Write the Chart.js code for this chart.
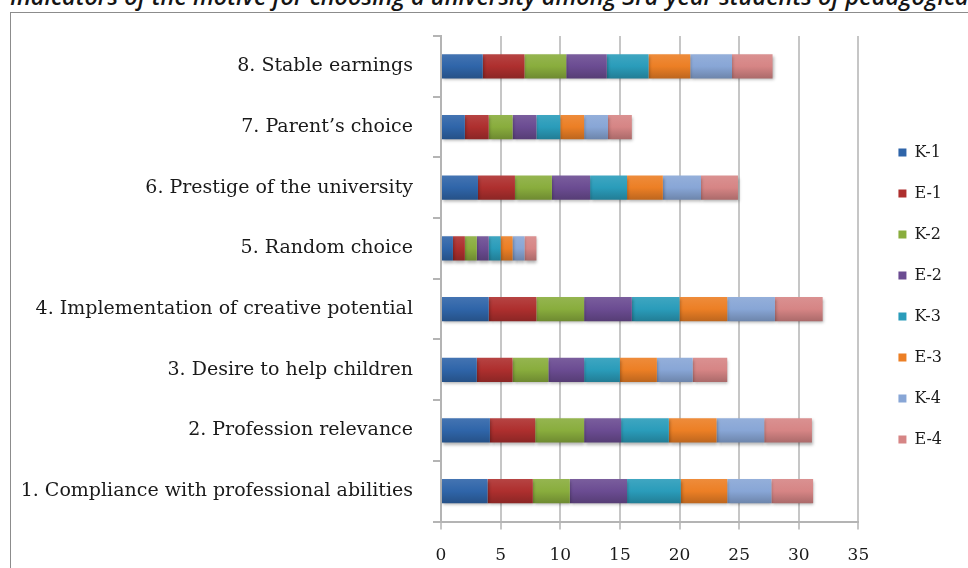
<!DOCTYPE html>
<html>
<head>
<meta charset="utf-8">
<title>Motive for choosing a university</title>
<script src="https://cdn.jsdelivr.net/npm/chart.js@4.4.1/dist/chart.umd.min.js"></script>
<style>
    html, body { margin: 0; padding: 0; background: #fff; overflow: hidden; }
    body { width: 968px; height: 568px; position: relative; }
    .caption {
        position: absolute; left: 10px; top: -15px;
        font: italic 600 23.5px 'Open Sans', sans-serif; line-height: 23px;
        white-space: nowrap; color: #151515;
    }
    .frame {
        position: absolute; left: 10px; top: 12px; width: 1200px; height: 800px;
        border-left: 1px solid #8c8c8c; border-top: 1px solid #8c8c8c;
    }
    .wrap { position: absolute; left: 0; top: 0; width: 968px; height: 568px; }
</style>
</head>
<body>
<div class="caption">Indicators of the motive for choosing a university among 3rd-year students of pedagogical</div>
<div class="frame"></div>
<div class="wrap"><canvas id="motiveChart"></canvas></div>
<script>
// categories, bottom to top
const categories = [
    '1. Compliance with professional abilities',
    '2. Profession relevance',
    '3. Desire to help children',
    '4. Implementation of creative potential',
    '5. Random choice',
    '6. Prestige of the university',
    '7. Parent\u2019s choice',
    '8. Stable earnings'
];

const seriesNames = ['K-1', 'E-1', 'K-2', 'E-2', 'K-3', 'E-3', 'K-4', 'E-4'];

// one value per category, same order as categories
const k1 = [3.9, 4.1, 3.0, 4.0, 1.0, 3.1, 2.0, 3.5];
const e1 = [3.8, 3.8, 3.0, 4.0, 1.0, 3.1, 2.0, 3.5];
const k2 = [3.1, 4.1, 3.0, 4.0, 1.0, 3.1, 2.0, 3.5];
const e2 = [4.8, 3.1, 3.0, 4.0, 1.0, 3.2, 2.0, 3.4];
const k3 = [4.5, 4.0, 3.0, 4.0, 1.0, 3.1, 2.0, 3.5];
const e3 = [3.9, 4.0, 3.1, 4.0, 1.0, 3.0, 2.0, 3.5];
const k4 = [3.7, 4.0, 3.0, 4.0, 1.0, 3.2, 2.0, 3.5];
const e4 = [3.5, 4.0, 2.9, 4.0, 1.0, 3.1, 2.0, 3.4];

const xTicks = [0, 5, 10, 15, 20, 25, 30, 35];

const seriesValues = [k1, e1, k2, e2, k3, e3, k4, e4];
const seriesColors = ['#2f65a9', '#ae2f2e', '#89ad3d', '#6b4c92', '#2a9cba', '#ec7f25', '#88a6d6', '#d68585'];

const BAR_PCT = 0.4;

// Shade a hex colour: f > 0 lighter, f < 0 darker
function shade(hex, f) {
    const n = parseInt(hex.slice(1), 16);
    let r = (n >> 16) & 255, g = (n >> 8) & 255, b = n & 255;
    const t = f < 0 ? 0 : 255;
    const p = Math.abs(f);
    r = Math.round((t - r) * p + r);
    g = Math.round((t - g) * p + g);
    b = Math.round((t - b) * p + b);
    return `rgb(${r}, ${g}, ${b})`;
}

// Vertical gradient on each bar, like the old office style
function barFill(base) {
    return function(ctx) {
        const chart = ctx.chart;
        const yScale = chart.scales.y;
        if (!yScale || ctx.dataIndex === undefined || !chart.chartArea) return base;
        const cy = yScale.getPixelForValue(ctx.dataIndex);
        const half = (yScale.height / categories.length) * BAR_PCT / 2;
        if (!Number.isFinite(cy) || !Number.isFinite(half) || half <= 0) return base;
        const grad = chart.ctx.createLinearGradient(0, cy - half, 0, cy + half);
        grad.addColorStop(0, shade(base, 0.1));
        grad.addColorStop(0.5, base);
        grad.addColorStop(1, shade(base, -0.2));
        return grad;
    };
}

const datasets = seriesNames.map((name, i) => ({
    label: name,
    data: seriesValues[i],
    backgroundColor: barFill(seriesColors[i]),
    borderWidth: 0,
    barPercentage: BAR_PCT,
    categoryPercentage: 1.0
}));

// Move the legend a bit away from the plot
const LEGEND_SHIFT_X = 15;
const LEGEND_SHIFT_Y = -6;
const legendShift = {
    id: 'legendShift',
    afterLayout(chart) {
        const l = chart.legend;
        if (!l) return;
        l.left += LEGEND_SHIFT_X; l.right += LEGEND_SHIFT_X;
        l.top += LEGEND_SHIFT_Y; l.bottom += LEGEND_SHIFT_Y;
    }
};

// Soft drop shadow under the bars
const barShadow = {
    id: 'barShadow',
    beforeDatasetsDraw(chart) {
        const c = chart.ctx;
        c.save();
        c.shadowColor = 'rgba(0, 0, 0, 0.3)';
        c.shadowBlur = 3;
        c.shadowOffsetX = 1;
        c.shadowOffsetY = 2;
    },
    afterDatasetsDraw(chart) {
        chart.ctx.restore();
    }
};

const serif = "'DejaVu Serif', serif";
const gridColor = '#c6c6c6';

new Chart(document.getElementById('motiveChart'), {
    type: 'bar',
    data: { labels: categories, datasets: datasets },
    plugins: [legendShift, barShadow],
    options: {
        indexAxis: 'y',
        responsive: true,
        maintainAspectRatio: false,
        animation: false,
        devicePixelRatio: 1,
        layout: { padding: { top: 36, right: 31, bottom: 0, left: 0 } },
        scales: {
            x: {
                stacked: true,
                min: 0,
                max: 35,
                afterBuildTicks: (scale) => { scale.ticks = xTicks.map(v => ({ value: v })); },
                afterFit: (scale) => { scale.height = 46.5; },
                grid: { color: gridColor, lineWidth: 2, tickLength: 8 },
                border: { color: '#b4b4b4', width: 2 },
                ticks: { padding: 16, color: '#1a1a1a', font: { family: serif, size: 17 } }
            },
            y: {
                stacked: true,
                reverse: true,
                afterFit: (scale) => { scale.width = 441; },
                grid: { drawOnChartArea: false, color: '#b4b4b4', lineWidth: 2, tickLength: 8 },
                border: { color: '#b4b4b4', width: 2 },
                ticks: { padding: 20, color: '#1a1a1a', font: { family: serif, size: 19 } }
            }
        },
        plugins: {
            legend: {
                position: 'right',
                labels: {
                    boxWidth: 8,
                    boxHeight: 8,
                    padding: 25,
                    color: '#1a1a1a',
                    font: { family: serif, size: 16 },
                    generateLabels: (chart) => {
                        const items = Chart.defaults.plugins.legend.labels.generateLabels(chart);
                        items.forEach((it, i) => { it.fillStyle = seriesColors[i]; it.lineWidth = 0; });
                        return items;
                    }
                }
            },
            tooltip: { enabled: true }
        }
    }
});
</script>
</body>
</html>
